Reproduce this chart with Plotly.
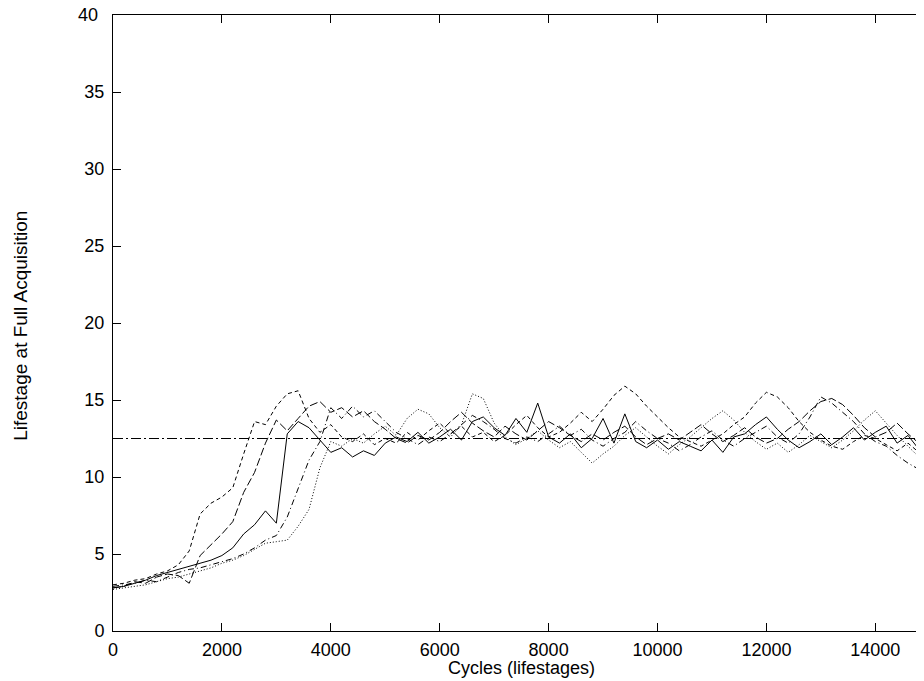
import plotly.graph_objects as go

# cycles sampled every 200 lifestages
cycles = list(range(0, 15001, 200))

run_solid = [
    2.8, 2.9, 3.1, 3.3, 3.6, 3.8, 4.0, 4.2, 4.4, 4.6,
    4.9, 5.4, 6.3, 6.9, 7.8, 7.0, 12.8, 13.6, 13.2, 12.4,
    11.6, 11.9, 11.3, 11.7, 11.4, 12.2, 12.6, 12.3, 12.9, 12.2,
    12.6, 13.1, 12.4, 13.6, 13.9, 13.2, 12.7, 13.8, 12.9, 14.8,
    12.6, 12.2, 12.8, 11.9, 12.5, 13.8, 12.2, 14.1, 12.3, 11.9,
    12.4, 11.8, 12.3, 12.0, 11.7, 12.4, 11.6, 12.6, 12.8, 13.4,
    13.9, 13.1, 12.4, 11.9, 12.3, 12.8, 12.1, 12.6, 13.2, 12.4,
    12.9, 13.3, 12.2, 12.7, 11.8, 12.3,
]
run_dash = [
    3.0, 3.1, 3.3, 3.4, 3.7, 3.9, 4.3, 5.2, 7.6, 8.3,
    8.7, 9.3, 11.5, 13.6, 13.4, 14.6, 15.4, 15.6, 13.8, 12.9,
    13.4, 12.6, 12.3, 12.8, 12.1, 12.5, 12.2, 12.9, 12.4, 13.0,
    13.5, 12.8, 13.3, 12.6, 12.9, 12.3, 12.7, 13.4, 14.0, 13.2,
    12.6, 12.9, 13.5, 14.2, 13.6, 14.4, 15.3, 15.9, 15.4, 14.6,
    13.9, 13.2, 12.6, 12.3, 12.0, 12.4, 12.8, 13.4, 13.9, 14.8,
    15.5, 15.2, 14.5, 13.6, 12.9, 12.4, 12.0, 11.8, 12.3, 12.7,
    12.5, 12.1, 11.7, 12.2, 11.6, 12.0,
]
run_longdash = [
    2.8, 2.9, 3.2, 3.1, 3.5, 3.7, 3.6, 3.1, 4.9, 5.6,
    6.3, 7.1, 9.0, 10.3, 12.2, 13.7, 13.0, 13.8, 14.6, 14.9,
    14.2, 14.5, 13.9, 14.3, 13.6, 13.1, 12.5, 12.2, 12.7, 12.4,
    12.9, 13.6, 14.2, 13.5, 13.0, 12.6, 13.3, 12.8, 12.4, 13.0,
    13.6, 13.2, 12.7, 12.3, 12.8, 12.4, 12.9, 13.3, 12.6, 12.1,
    12.5, 12.8, 12.4, 12.9, 13.4, 12.8, 12.3, 12.7, 13.2, 12.6,
    12.2, 12.5, 13.1, 13.6, 14.3, 14.9, 15.1, 14.7, 14.0, 13.2,
    12.6, 12.9, 13.5, 12.8, 12.2, 12.6,
]
run_dashdot = [
    2.9, 3.0, 3.1, 3.3, 3.2, 3.5, 3.8, 4.0, 4.1, 4.3,
    4.5, 4.7, 5.0, 5.4, 5.9, 6.2, 7.4, 9.2, 11.1, 12.3,
    14.5, 13.8, 14.6, 13.9, 14.3, 13.6, 12.9, 12.5, 12.1, 12.6,
    12.3, 12.8, 13.4, 14.0, 13.6, 13.1, 12.5, 12.2, 12.6, 12.3,
    12.8, 13.3, 12.7, 13.1, 12.4, 12.0, 12.5, 12.9, 13.6, 13.0,
    12.5, 12.2, 11.7, 12.1, 12.6, 13.0, 12.4, 12.0, 12.5, 12.9,
    13.3, 12.6, 12.2, 12.8, 13.9, 15.2, 14.8, 14.2, 13.6, 12.8,
    12.3, 12.0, 11.4, 10.9, 10.5, 11.0,
]
run_dot = [
    2.7, 2.8, 2.9, 3.0, 3.2, 3.4, 3.5, 3.7, 3.9, 4.1,
    4.4, 4.6, 4.9, 5.3, 5.7, 5.8, 5.9, 6.8, 7.9, 10.6,
    12.3, 12.0, 12.5, 12.2, 12.8, 13.3, 12.7, 13.8, 14.4, 14.1,
    13.2, 12.6, 13.4, 15.4, 15.1, 13.5, 12.6, 12.1, 12.5, 13.0,
    12.4, 11.9, 12.3, 11.6, 10.9, 11.5, 12.0, 12.7, 13.2, 12.6,
    12.0, 11.5, 12.1, 12.6, 13.2, 13.8, 14.3, 13.7, 12.9, 12.3,
    11.8, 12.2, 11.6, 12.1, 12.7, 12.3, 11.9, 12.4, 13.0, 13.7,
    14.3, 13.5, 12.7, 12.0, 11.3, 11.8,
]
reference_level = 12.5

x_ticks = [0, 2000, 4000, 6000, 8000, 10000, 12000, 14000]
x_tick_labels = ['0', '2000', '4000', '6000', '8000', '10000', '12000', '14000']
y_ticks = [0, 5, 10, 15, 20, 25, 30, 35, 40]

fig = go.Figure()

series = [
    (run_solid, 'solid'),
    (run_dash, '4px,3px'),
    (run_longdash, '8px,3px'),
    (run_dashdot, '6px,3px,1px,3px'),
    (run_dot, '1px,2px'),
]
for values, dash in series:
    fig.add_trace(go.Scatter(
        x=cycles, y=values, mode='lines',
        line=dict(color='black', width=1, dash=dash),
        showlegend=False, hoverinfo='skip',
    ))

# horizontal reference line, drawn on the right-hand axis so it shows ticks
fig.add_trace(go.Scatter(
    x=[cycles[0], cycles[-1]], y=[reference_level, reference_level],
    mode='lines', yaxis='y2',
    line=dict(color='black', width=1, dash='10px,3px,2px,3px'),
    showlegend=False, hoverinfo='skip',
))

font = dict(family='Liberation Sans, Arial, sans-serif', size=18, color='black')

# the page body has an 8px margin, so the figure is a little smaller
fig.update_layout(
    width=916, height=673,
    margin=dict(l=105, r=0, t=7, b=50),
    plot_bgcolor='white', paper_bgcolor='white',
    font=font,
    xaxis=dict(
        range=[0, 14894], tickvals=x_ticks, ticktext=x_tick_labels,
        ticks='inside', ticklen=8,
        tickcolor='black', showline=True, linecolor='black', linewidth=1,
        mirror='ticks', showgrid=False, zeroline=False,
        ticklabelstandoff=2,
    ),
    yaxis=dict(
        range=[0, 40], tickvals=y_ticks, ticks='inside', ticklen=8,
        tickcolor='black', showline=True, linecolor='black', linewidth=1,
        mirror=False, showgrid=False, zeroline=False,
        ticklabelstandoff=4,
    ),
    yaxis2=dict(
        range=[0, 40], tickvals=y_ticks, overlaying='y', side='right',
        ticks='inside', ticklen=2, tickcolor='black', showticklabels=False,
        showline=False, showgrid=False, zeroline=False,
    ),
    annotations=[
        # top label gets dropped by plotly since it touches the page edge
        dict(text=str(y_ticks[-1]), xref='paper', yref='y',
             x=-0.016, y=y_ticks[-1], xanchor='right', yanchor='middle',
             showarrow=False, font=font),
        dict(text='Cycles (lifestages)', xref='x', yref='paper',
             x=7500, y=-0.060, xanchor='center', yanchor='middle',
             showarrow=False, font=font),
        dict(text='Lifestage at Full Acquisition', xref='paper', yref='paper',
             x=-0.115, y=0.495, xanchor='center', yanchor='middle',
             textangle=-90, showarrow=False, font=dict(font, size=19)),
    ],
)

fig.write_html('out.html')
